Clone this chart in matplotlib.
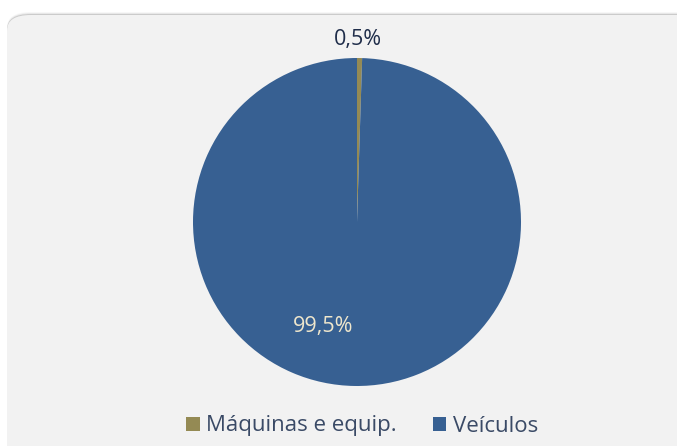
import numpy as np
import matplotlib
matplotlib.use("Agg")
import matplotlib.pyplot as plt
from matplotlib.patches import FancyBboxPatch

labels = ["Máquinas e equip.", "Veículos"]
shares = [0.5, 99.5]
colors = ["#948A54", "#376092"]
label_colors = ["#1F2D4A", "#EEE6CC"]
# label placement (radius, angle in degrees) as Excel put them
label_pos = [(1.11, 89.7), (0.67, -108.0)]

plt.rcParams["font.family"] = ["Open Sans", "DejaVu Sans"]

fig = plt.figure(figsize=(6.77, 4.46), dpi=100)
fig.patch.set_facecolor("white")

# chart panel with soft shadow along the top
W, H = 677, 446
for k, a in enumerate([0.12, 0.06, 0.03]):
    sh = FancyBboxPatch((7 / W, -0.2), 1.2, (H - 15 + 1 + k) / H + 0.2,
                        boxstyle="round,pad=0,rounding_size=0.035",
                        transform=fig.transFigure, facecolor="black", alpha=a,
                        edgecolor="none", zorder=0)
    fig.patches.append(sh)
panel = FancyBboxPatch((7 / W, -0.2), 1.2, (H - 15) / H + 0.2,
                       boxstyle="round,pad=0,rounding_size=0.035",
                       transform=fig.transFigure, facecolor="#F2F2F2",
                       edgecolor="none", zorder=1)
fig.patches.append(panel)

cx, cy, r = 357, 222, 164
ax = fig.add_axes([(cx - r) / W, 1 - (cy + r) / H, 2 * r / W, 2 * r / H])
ax.set_zorder(2)
ax.patch.set_alpha(0)

wedges, _, autotexts = ax.pie(shares, colors=colors, startangle=90, counterclock=False,
                              autopct=lambda p: f"{p:.1f}%".replace(".", ","),
                              wedgeprops=dict(linewidth=0), textprops=dict(fontsize=15.5))
ax.set_xlim(-1, 1)
ax.set_ylim(-1, 1)
ax.set_aspect("auto")

for t, (rad, ang), c in zip(autotexts, label_pos, label_colors):
    t.set_position((rad * np.cos(np.radians(ang)), rad * np.sin(np.radians(ang))))
    t.set_color(c)
    t.set_clip_on(False)

fig.legend(wedges, labels, loc="center", bbox_to_anchor=(0.535, 1 - 426 / H),
           ncol=2, frameon=False, fontsize=16, handlelength=0.6, handleheight=0.6,
           handletextpad=0.3, columnspacing=1.6, labelcolor="#3A4A66")

fig.savefig("out.png", dpi=100, facecolor=fig.get_facecolor())
